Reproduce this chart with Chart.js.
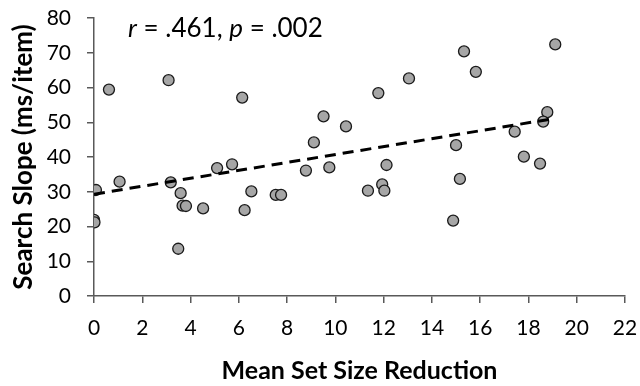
<!DOCTYPE html>
<html lang="en">
  <head>
    <meta charset="UTF-8" />
    <title>Search Slope vs Set Size Reduction</title>
    <style>
      body {
        margin: 0;
        padding: 0;
        background-color: #fff;
      }

      .chart-container {
        width: 640px;
        height: 386px;
        position: relative;
      }
    </style>
  </head>
  <body>
    <div class="chart-container">
      <canvas id="slopeChart" width="640" height="386"></canvas>
    </div>

    <script src="https://cdn.jsdelivr.net/npm/chart.js"></script>
    <script>
      // participant values
      const setSizeReduction = [
        0.62, 3.09, 6.14, 9.51, 10.44, 9.11, 15.33, 19.11, 15.82, 13.05,
        11.78, 18.78, 18.61, 17.43, 15.0, 17.81, 18.48, 12.12, 15.16, 11.94,
        12.03, 11.35, 14.88, 0.08, 0.0, 0.02, 1.06, 3.18, 3.59, 3.67, 3.81,
        3.49, 4.52, 5.1, 5.72, 6.52, 6.24, 7.53, 7.75, 8.78, 9.75,
      ];
      const searchSlope = [
        59.4, 62.1, 57.1, 51.7, 48.8, 44.2, 70.4, 72.4, 64.5, 62.6, 58.4,
        52.9, 50.2, 47.3, 43.4, 40.1, 38.1, 37.7, 33.7, 32.1, 30.3, 30.3,
        21.7, 30.5, 21.9, 21.2, 32.9, 32.7, 29.6, 26.0, 25.9, 13.6, 25.2,
        36.8, 37.9, 30.1, 24.7, 29.1, 29.1, 36.1, 37.0,
      ];

      // regression line end points
      const fitX = [0, 19.1];
      const fitY = [29.3, 51.1];

      const xTicks = [0, 2, 4, 6, 8, 10, 12, 14, 16, 18, 20, 22];
      const yTicks = [0, 10, 20, 30, 40, 50, 60, 70, 80];

      const axisColor = "#595959";
      const fontFamily = "Lato, 'Liberation Sans', sans-serif";

      const statsLabel = {
        id: "statsLabel",
        afterDraw(chart) {
          const c = chart.ctx;
          const x = chart.scales.x.getPixelForValue(1.41);
          const y = chart.scales.y.getPixelForValue(74.6);
          const parts = [
            ["r", true],
            [" = .461, ", false],
            ["p", true],
            [" = .002", false],
          ];
          c.save();
          c.fillStyle = "#000";
          c.textBaseline = "alphabetic";
          let cx = x;
          parts.forEach(([txt, italic]) => {
            c.font = (italic ? "italic " : "") + "26px " + fontFamily;
            c.fillText(txt, cx, y);
            cx += c.measureText(txt).width;
          });
          c.restore();
        },
      };

      const points = setSizeReduction.map((v, i) => ({ x: v, y: searchSlope[i] }));
      const fitLine = fitX.map((v, i) => ({ x: v, y: fitY[i] }));

      new Chart(document.getElementById("slopeChart"), {
        type: "scatter",
        data: {
          datasets: [
            {
              data: fitLine,
              type: "line",
              showLine: true,
              borderColor: "#000",
              borderWidth: 3,
              borderDash: [11, 7],
              pointRadius: 0,
              fill: false,
            },
            {
              data: points,
              backgroundColor: "#a6a6a6",
              borderColor: "#1a1a1a",
              borderWidth: 1.3,
              pointRadius: 5.5,
            },
          ],
        },
        options: {
          responsive: false,
          animation: false,
          layout: {
            padding: { top: 18, right: 15, left: 0, bottom: 0 },
          },
          scales: {
            x: {
              type: "linear",
              min: 0,
              max: 22,
              afterBuildTicks: (s) => {
                s.ticks = xTicks.map((v) => ({ value: v }));
              },
              afterFit: (s) => {
                s.height = 90;
                s.paddingLeft = 0;
                s.paddingRight = 0;
              },
              border: { color: axisColor, width: 1.5 },
              grid: {
                drawOnChartArea: false,
                drawTicks: true,
                tickLength: 7,
                color: axisColor,
                lineWidth: 1.5,
              },
              ticks: {
                color: "#000",
                padding: 13,
                maxRotation: 0,
                font: { family: fontFamily, size: 21 },
              },
              title: {
                display: true,
                text: "Mean Set Size Reduction",
                color: "#000",
                padding: { top: 2, bottom: 0 },
                font: { family: fontFamily, size: 25, weight: "bold" },
              },
            },
            y: {
              type: "linear",
              min: 0,
              max: 80,
              afterBuildTicks: (s) => {
                s.ticks = yTicks.map((v) => ({ value: v }));
              },
              afterFit: (s) => {
                s.width = 94;
                s.paddingTop = 0;
                s.paddingBottom = 0;
              },
              border: { color: axisColor, width: 1.5 },
              grid: {
                drawOnChartArea: false,
                drawTicks: true,
                tickLength: 7,
                color: axisColor,
                lineWidth: 1.5,
              },
              ticks: {
                color: "#000",
                padding: 16,
                font: { family: fontFamily, size: 21 },
              },
              title: {
                display: true,
                text: "Search Slope (ms/item)",
                color: "#000",
                padding: { top: 8, bottom: 0 },
                font: { family: fontFamily, size: 26, weight: "bold" },
              },
            },
          },
          plugins: {
            legend: { display: false },
            tooltip: { enabled: false },
          },
        },
        plugins: [statsLabel],
      });
    </script>
  </body>
</html>
